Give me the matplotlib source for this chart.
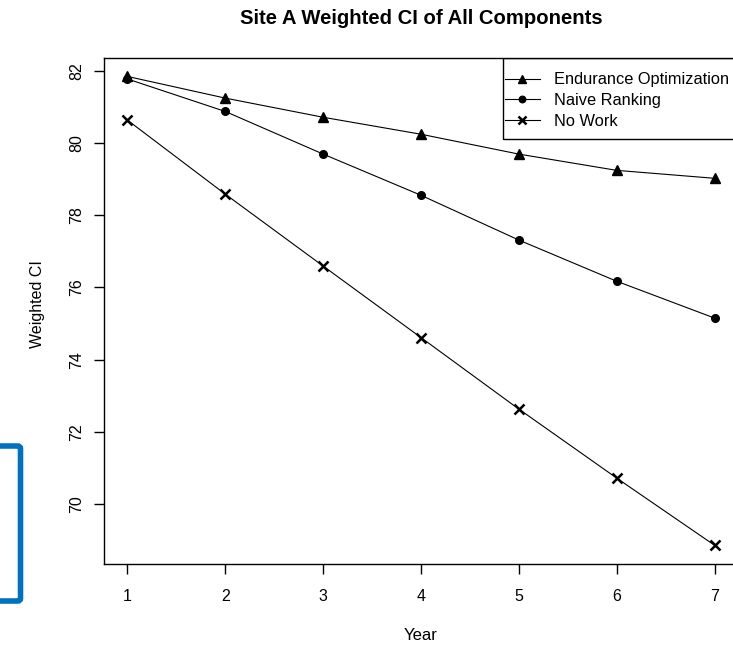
import matplotlib
matplotlib.use("Agg")
import matplotlib.pyplot as plt
import matplotlib.patches as patches
import numpy as np

plt.rcParams['font.family'] = ['Liberation Sans', 'DejaVu Sans']

years = [1, 2, 3, 4, 5, 6, 7]
endurance = [81.84, 81.24, 80.71, 80.24, 79.69, 79.24, 79.02]
naive = [81.77, 80.87, 79.69, 78.55, 77.31, 76.17, 75.15]
no_work = [80.63, 78.58, 76.59, 74.61, 72.63, 70.72, 68.86]
series_names = ["Endurance Optimization", "Naive Ranking", "No Work"]
y_ticks = [70, 72, 74, 76, 78, 80, 82]


def r_range(vals):
    # R style axis range: data range plus 4% each side
    lo, hi = min(vals), max(vals)
    pad = (hi - lo) * 0.04
    return lo - pad, hi + pad


W, H = 733, 645
ax_l, ax_r, ax_t, ax_b = 104, 738, 57.7, 564
fig = plt.figure(figsize=(W / 100, H / 100), dpi=100)
ax = fig.add_axes([ax_l / W, (H - ax_b) / H, (ax_r - ax_l) / W, (ax_b - ax_t) / H])

ax.plot(years, endurance, color='black', lw=0.8, marker='^', ms=6.5, label=series_names[0])
ax.plot(years, naive, color='black', lw=0.8, marker='o', ms=5.5, label=series_names[1])
ax.plot(years, no_work, color='black', lw=0.8, marker='x', ms=6.5, mew=1.8, label=series_names[2])

ax.set_xlim(*r_range(years))
ax.set_ylim(*r_range(endurance + naive + no_work))
ax.set_xticks(years)
ax.set_yticks(y_ticks)
ax.set_yticklabels([str(t) for t in y_ticks], rotation=90, va='center')

for s in ax.spines.values():
    s.set_linewidth(1.0)
ax.tick_params(direction='out', length=7, width=1, labelsize=11.5)
ax.tick_params(axis='x', pad=11)
ax.tick_params(axis='y', pad=7)

ax.set_xlabel("Year", fontsize=12, labelpad=17)
ax.set_ylabel("Weighted CI", fontsize=11.5)
ax.yaxis.set_label_coords(-(ax_l - 45) / (ax_r - ax_l), (ax_b - 304) / (ax_b - ax_t))
ax.set_title("Site A Weighted CI of All Components", fontsize=14.6, fontweight='bold', pad=24)

# legend without frame, frame drawn as a separate box (R style padding)
leg = ax.legend(loc='upper left', bbox_to_anchor=((503 - ax_l) / (ax_r - ax_l), 1 - 13 / (ax_b - ax_t)),
                borderaxespad=0, borderpad=0.1, fontsize=11.8, frameon=False,
                handlelength=2.15, labelspacing=0.35, handletextpad=0.85, markerscale=0.85)
frame = patches.Rectangle(((503 - ax_l) / (ax_r - ax_l), (ax_b - 139.3) / (ax_b - ax_t)),
                          1 - (503 - ax_l) / (ax_r - ax_l), (139.3 - ax_t) / (ax_b - ax_t),
                          transform=ax.transAxes, fill=False, edgecolor='black', lw=1.0,
                          zorder=5)
ax.add_patch(frame)

# blue selection box at the left edge of the screenshot
box = patches.FancyBboxPatch((-20 / W, (H - 601) / H), 40.5 / W, 155 / H,
                             boxstyle="round,pad=0,rounding_size=0.004",
                             transform=fig.transFigure, fill=False,
                             edgecolor='#0070C0', lw=4, clip_on=False)
fig.patches.append(box)

fig.savefig("out.png", dpi=100)
